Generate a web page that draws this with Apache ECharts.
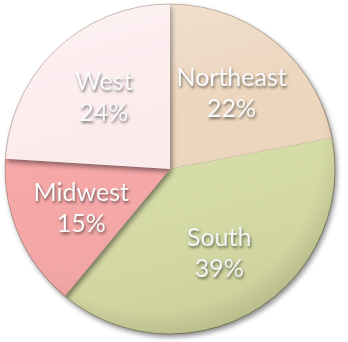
<!DOCTYPE html>
<html><head><meta charset="utf-8">
<style>html,body{margin:0;padding:0;background:#fff}#c{width:348px;height:342px}</style>
<script src="https://cdn.jsdelivr.net/npm/echarts@6/dist/echarts.min.js"></script>
</head><body><div id="c"></div>
<script>
const regions = ['Northeast', 'South', 'Midwest', 'West'];
const shares = [22, 39, 15, 24];
const colors = ['#ECD6BE', '#D6DCA6', '#F6A7A7', '#FCEBED'];

const CX = 170, CY = 169, R = 165;
const chart = echarts.init(document.getElementById('c'), null, {renderer: 'canvas'});
chart.setOption({
  animation: false,
  series: [{
    type: 'pie',
    center: [CX, CY],
    radius: [0, R],
    startAngle: 90,
    clockwise: true,
    data: regions.map((n, i) => ({name: n, value: shares[i], itemStyle: {color: colors[i]}})),
    itemStyle: {
      shadowBlur: 5, shadowColor: 'rgba(0,0,0,0.45)', shadowOffsetX: 2, shadowOffsetY: 3
    },
    label: {
      position: 'inside',
      formatter: '{b}\n{d}%',
      color: '#fbfbfb',
      fontFamily: 'Lato',
      fontSize: 25,
      lineHeight: 31,
      textShadowColor: 'rgba(0,0,0,0.55)',
      textShadowBlur: 3,
      textShadowOffsetX: 1,
      textShadowOffsetY: 2
    },
    labelLine: {show: false},
    labelLayout: function (p) {
      const r = p.labelRect;
      const lx = r.x + r.width / 2, ly = r.y + r.height / 2;
      return {dx: (lx - CX) * 0.13, dy: (ly - CY) * 0.15};
    },
    emphasis: {disabled: true}
  }],
  graphic: [{
    type: 'circle', silent: true, z: 100,
    shape: {cx: CX, cy: CY, r: R},
    style: {
      fill: {
        type: 'linear', x: 0, y: 0, x2: 0.3, y2: 1,
        colorStops: [
          {offset: 0, color: 'rgba(255,255,255,0.35)'},
          {offset: 0.45, color: 'rgba(255,255,255,0)'},
          {offset: 1, color: 'rgba(60,50,20,0.06)'}
        ]
      }
    }
  }, {
    type: 'circle', silent: true, z: 101,
    shape: {cx: CX, cy: CY, r: R},
    style: {
      fill: {
        type: 'radial', x: 0.45, y: 0.42, r: 0.6,
        colorStops: [
          {offset: 0, color: 'rgba(0,0,0,0)'},
          {offset: 0.85, color: 'rgba(0,0,0,0)'},
          {offset: 1, color: 'rgba(40,30,10,0.12)'}
        ]
      },
      stroke: {
        type: 'linear', x: 0, y: 0, x2: 0.6, y2: 1,
        colorStops: [
          {offset: 0, color: 'rgba(170,130,120,0.45)'},
          {offset: 1, color: 'rgba(60,60,30,0.5)'}
        ]
      },
      lineWidth: 1
    }
  }]
});
</script></body></html>
